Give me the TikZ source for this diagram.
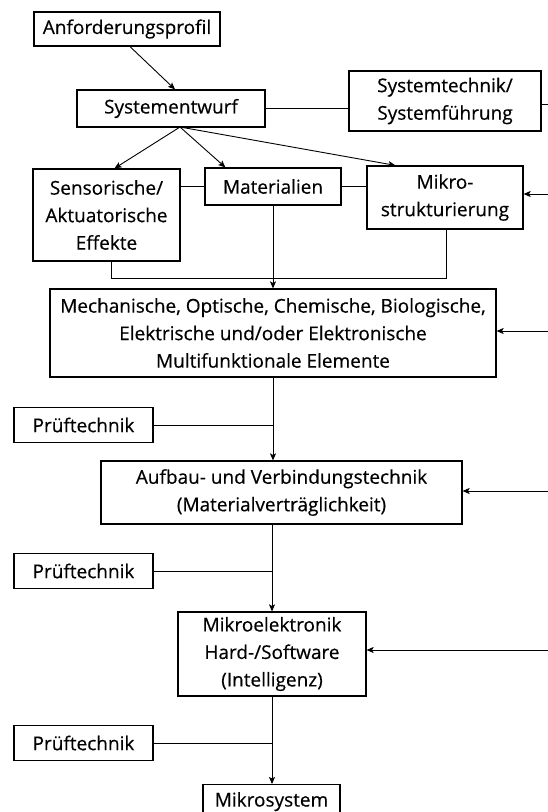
\documentclass[tikz,border=0pt]{standalone}
\usepackage{fontspec}
\setmainfont[FakeBold=0.4]{Open Sans}
\usetikzlibrary{arrows.meta}
\begin{document}
\begin{tikzpicture}[x=1pt,y=-1pt,
  box/.style={draw,line width=1.2pt,inner sep=0pt,align=center,
    font=\fontsize{19}{27.5}\selectfont},
  link/.style={line width=0.9pt},
  arr/.style={link,-{Stealth[length=7pt,width=6pt,inset=1.5pt]}}]
\useasboundingbox (0,0) rectangle (548,812);
\clip (0,0) rectangle (548,812);
\fill[white] (0,0) rectangle (548,812);

% boxes
\node[box,minimum width=186pt,minimum height=34pt] (anf) at (127,29) {Anforderungsprofil};
\node[box,minimum width=188pt,minimum height=37pt] (ent) at (171,108.5) {Systementwurf};
\node[box,minimum width=192pt,minimum height=60pt] (sys) at (445,101) {Systemtechnik/\\Systemführung};
\node[box,minimum width=147pt,minimum height=92pt] (sen) at (106.5,215) {Sensorische/\\Aktuatorische\\Effekte};
\node[box,minimum width=136pt,minimum height=37pt] (mat) at (273,186.5) {Materialien};
\node[box,minimum width=156pt,minimum height=63pt] (mik) at (445,197.5) {Mikro-\\strukturierung};
\node[box,minimum width=446pt,minimum height=88pt] (mech) at (273,333) {Mechanische, Optische, Chemische, Biologische,\\Elektrische und/oder Elektronische\\Multifunktionale Elemente};
\node[box,minimum width=139pt,minimum height=35pt] (pr1) at (83.5,425) {Prüftechnik};
\node[box,minimum width=361pt,minimum height=63pt] (auf) at (281.5,492.5) {Aufbau- und Verbindungstechnik\\(Materialverträglichkeit)};
\node[box,minimum width=139pt,minimum height=35pt] (pr2) at (83.5,571) {Prüftechnik};
\node[box,minimum width=188pt,minimum height=84pt] (mel) at (272,654) {Mikroelektronik\\Hard-/Software\\(Intelligenz)};
\node[box,minimum width=139pt,minimum height=35pt] (pr3) at (83.5,743) {Prüftechnik};
\node[box,minimum width=137pt,minimum height=34pt,anchor=north] (msys) at (271.5,784) {Mikrosystem};

% feeds from the right-hand side
\coordinate (e0) at (548,104);
\coordinate (e1) at (548,194);
\coordinate (e2) at (548,331);
\coordinate (e3) at (548,491);
\coordinate (e4) at (548,650);
\draw[link] (e0 -| sys.east) -- (e0);
\draw[arr] (e1) -- (e1 -| mik.east);
\draw[arr] (e2) -- (e2 -| mech.east);
\draw[arr] (e3) -- (e3 -| auf.east);
\draw[arr] (e4) -- (e4 -| mel.east);

% top part
\draw[arr] ([xshift=3pt]anf.south) -- ([xshift=4pt]ent.north);
\draw[link] (ent.east) -- (ent.east -| sys.west);
\coordinate (fan) at (180,127);
\draw[arr] (fan) -- ([xshift=8pt]sen.north);
\draw[arr] (fan) -- ([xshift=21pt]mat.north west);
\draw[arr] (fan) -- ([xshift=29pt]mik.north west);
\draw[link] (mat.west -| sen.east) -- (mat.west);
\draw[link] (mat.east) -- (mat.east -| mik.west);

% collecting line below the three boxes
\coordinate (busL) at (111,278);
\coordinate (busR) at (446,278);
\draw[link] (busL |- sen.south) -- (busL) -- (busR) -- (busR |- mik.south);
\draw[arr] (mat.south) -- (mat.south |- mech.north);

% main chain with test branches
\draw[arr] (mech.south) -- (mech.south |- auf.north);
\draw[link] (pr1.east) -- (pr1.east -| mech.south);
\draw[arr] (mel.north |- auf.south) -- (mel.north);
\draw[link] (pr2.east) -- (pr2.east -| mel.north);
\draw[arr] (mel.south) -- (mel.south |- msys.north);
\draw[link] (pr3.east) -- (pr3.east -| mel.south);
\end{tikzpicture}
\end{document}
